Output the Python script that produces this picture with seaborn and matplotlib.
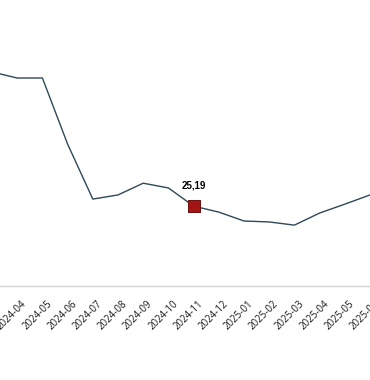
import matplotlib
matplotlib.use("Agg")
import matplotlib.pyplot as plt
import matplotlib.transforms as mtransforms
import pandas as pd
import seaborn as sns

months = ["2024-03", "2024-04", "2024-05", "2024-06", "2024-07", "2024-08",
          "2024-09", "2024-10", "2024-11", "2024-12", "2025-01", "2025-02",
          "2025-03", "2025-04", "2025-05", "2025-06"]
values = [67.4, 65.5, 65.5, 44.7, 27.4, 28.7, 32.4, 30.9, 25.19, 23.3,
          20.5, 20.2, 19.2, 23.0, 25.8, 28.7]
highlight_month = "2024-11"
highlight_label = "25,19"

df = pd.DataFrame({"month": months, "value": values})
df["pos"] = range(len(df))

sns.set_theme(style="white")
plt.rcParams["font.family"] = ["Open Sans", "DejaVu Sans"]

fig = plt.figure(figsize=(3.7, 3.8), dpi=100)
ax = fig.add_axes([0, 0.247, 1, 0.753])

sns.lineplot(data=df, x="pos", y="value", color="#2f4858", linewidth=1.0, ax=ax)

hl = df[df["month"] == highlight_month]
sns.scatterplot(data=hl, x="pos", y="value", marker="s", s=70,
                color="#a31515", edgecolor="#6e0d0d", linewidth=0.7,
                zorder=5, ax=ax)
ax.annotate(highlight_label, (hl["pos"].iloc[0], hl["value"].iloc[0]),
            xytext=(0, 11.5), textcoords="offset points", ha="center",
            va="bottom", fontsize=7, fontweight="bold", color="black",
            family=["Liberation Sans", "DejaVu Sans"])

ax.set_xticks(df["pos"])
ax.set_xticklabels(df["month"], rotation=45, ha="right", va="top",
                   rotation_mode="anchor", fontsize=7, color="#1a1a1a")
ax.set_xlim(0.317, 15.0)
ax.set_ylim(0, 90.05)
ax.tick_params(axis="x", length=0, pad=9)
shift = mtransforms.ScaledTranslation(4 / 100, 0, fig.dpi_scale_trans)
for lbl in ax.get_xticklabels():
    lbl.set_transform(lbl.get_transform() + shift)
ax.set_yticks([])
ax.set_xlabel("")
ax.set_ylabel("")
for side in ["top", "left", "right"]:
    ax.spines[side].set_visible(False)
ax.spines["bottom"].set_color("#d4d4d4")
ax.spines["bottom"].set_linewidth(1.0)

fig.savefig("out.png", dpi=100)
